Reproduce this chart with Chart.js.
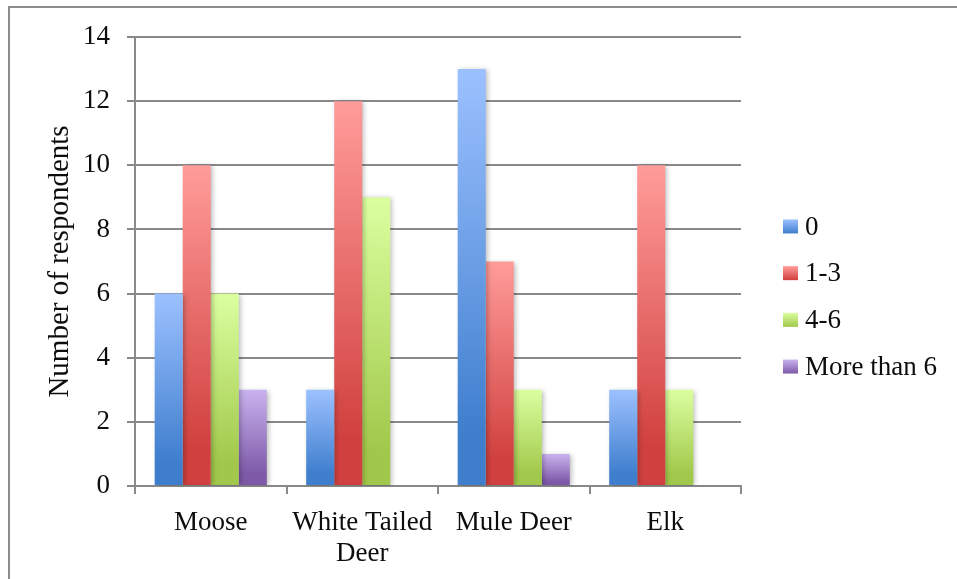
<!DOCTYPE html>
<html>
<head>
<meta charset="utf-8">
<script src="https://cdn.jsdelivr.net/npm/chart.js@4/dist/chart.umd.min.js"></script>
<style>
  html, body { margin: 0; padding: 0; background: #ffffff; }
  canvas { display: block; }
</style>
</head>
<body>
<canvas id="chart" width="957" height="579"></canvas>
<script>
// Species and survey answer groups
const categories = ['Moose', ['White Tailed', 'Deer'], 'Mule Deer', 'Elk'];
const seriesLabels = ['0', '1-3', '4-6', 'More than 6'];

// Number of respondents per answer group, one value per species
const zeroValues = [6, 3, 13, 3];
const oneToThreeValues = [10, 12, 7, 10];
const fourToSixValues = [6, 9, 3, 3];
const moreThanSixValues = [3, 0, 1, 0];

// Y axis range
const yMin = 0;
const yMax = 14;
const yStep = 2;

// Light (top) and dark (bottom) shade of each series
const palette = [
  ['#9cc1ff', '#3e7ecd'],
  ['#ff9c9a', '#d0403e'],
  ['#dbffa0', '#a1c84a'],
  ['#c9b3ee', '#7d59a8']
];

const FONT = "'Liberation Serif', 'Times New Roman', serif";
const GRID = '#898989';
const TEXT = '#0d0d0d';

function barGradient(shades) {
  return function (ctx) {
    const chart = ctx.chart;
    const area = chart.chartArea;
    if (!area || ctx.type !== 'data' || !chart.scales.y) return shades[1];
    const top = chart.scales.y.getPixelForValue(ctx.raw || 0);
    const bottom = chart.scales.y.getPixelForValue(0);
    if (bottom - top < 1) return shades[1];
    const g = chart.ctx.createLinearGradient(0, top, 0, bottom);
    g.addColorStop(0, shades[0]);
    g.addColorStop(0.88, shades[1]);
    g.addColorStop(1, shades[1]);
    return g;
  };
}

const seriesValues = [zeroValues, oneToThreeValues, fourToSixValues, moreThanSixValues];
const datasets = seriesValues.map((values, i) => ({
  label: seriesLabels[i],
  data: values,
  backgroundColor: barGradient(palette[i]),
  borderWidth: 0,
  categoryPercentage: 0.74,
  barPercentage: 1.0
}));

// Thin frame along the top and left edges of the figure
const framePlugin = {
  id: 'frame',
  beforeDraw(chart) {
    const c = chart.ctx;
    c.save();
    c.fillStyle = '#ffffff';
    c.fillRect(0, 0, chart.width, chart.height);
    c.fillStyle = '#8c8c8c';
    c.fillRect(8, 6, chart.width - 8, 2);
    c.fillRect(8, 6, 2, chart.height - 6);
    c.restore();
  }
};

// Soft drop shadow under the bars
const shadowPlugin = {
  id: 'barShadow',
  beforeDatasetsDraw(chart) {
    const c = chart.ctx;
    c.save();
    c.shadowColor = 'rgba(0, 0, 0, 0.28)';
    c.shadowBlur = 5;
    c.shadowOffsetX = 2;
    c.shadowOffsetY = 1;
  },
  afterDatasetsDraw(chart) {
    chart.ctx.restore();
  }
};

// Vertical legend to the right of the plot, with gradient swatches
const sideLegendPlugin = {
  id: 'sideLegend',
  afterDraw(chart) {
    const c = chart.ctx;
    const area = chart.chartArea;
    const sets = chart.data.datasets;
    const box = 14;
    const x = area.right + 42;
    const gap = 46.7;
    const midY = (area.top + area.bottom) / 2 + 35;
    const firstY = midY - gap * (sets.length - 1) / 2;
    c.save();
    c.font = '27px ' + FONT;
    c.textBaseline = 'middle';
    c.textAlign = 'left';
    sets.forEach((ds, i) => {
      const cy = firstY + i * gap;
      const g = c.createLinearGradient(0, cy - box / 2, 0, cy + box / 2);
      g.addColorStop(0, palette[i][0]);
      g.addColorStop(1, palette[i][1]);
      c.fillStyle = g;
      c.fillRect(x, cy - box / 2, box + 1, box);
      c.fillStyle = TEXT;
      c.fillText(ds.label, x + box + 8, cy + 1);
    });
    c.restore();
  }
};

new Chart(document.getElementById('chart'), {
  type: 'bar',
  data: { labels: categories, datasets },
  options: {
    responsive: false,
    animation: false,
    layout: { padding: { left: 10, right: 216, top: 37, bottom: 0 } },
    plugins: {
      legend: { display: false },
      tooltip: { enabled: false }
    },
    scales: {
      x: {
        grid: {
          offset: true,
          drawOnChartArea: false,
          drawTicks: true,
          tickLength: 8,
          color: GRID,
          lineWidth: 2
        },
        border: { display: true, color: GRID, width: 2 },
        ticks: {
          color: TEXT,
          padding: 13,
          maxRotation: 0,
          autoSkip: false,
          font: { family: FONT, size: 27, lineHeight: 1.15 }
        },
        afterFit(scale) { scale.height = 93; }
      },
      y: {
        min: yMin,
        max: yMax,
        grid: { color: GRID, lineWidth: 2, tickLength: 8 },
        border: { display: true, color: GRID, width: 2 },
        ticks: {
          stepSize: yStep,
          color: TEXT,
          padding: 17,
          font: { family: FONT, size: 27 }
        },
        title: {
          display: true,
          text: 'Number of respondents',
          color: TEXT,
          padding: { top: 33, bottom: 0 },
          font: { family: FONT, size: 29, lineHeight: 1.2 }
        },
        afterFit(scale) { scale.width = 125; }
      }
    }
  },
  plugins: [framePlugin, shadowPlugin, sideLegendPlugin]
});
</script>
</body>
</html>
